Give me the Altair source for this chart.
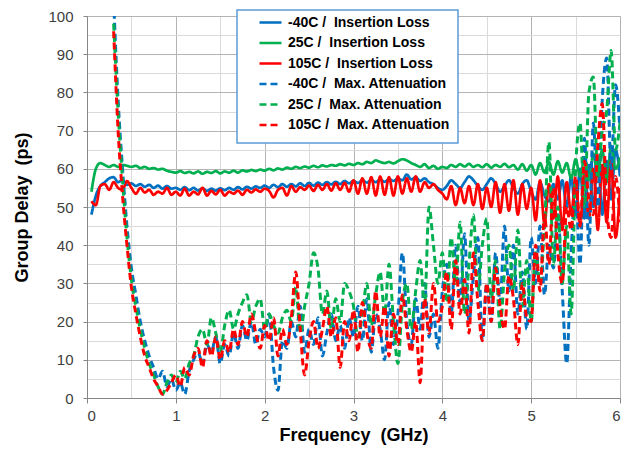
import altair as alt
import pandas as pd

NB = "\u00a0"
SERIES = [
    "-40C / " + NB + "Insertion Loss",
    "25C / " + NB + "Insertion Loss",
    "105C / " + NB + "Insertion Loss",
    "-40C / " + NB + "Max. Attenuation",
    "25C / " + NB + "Max. Attenuation",
    "105C / " + NB + "Max. Attenuation",
]
COLORS = ["#0070C0", "#00B050", "#FF0000", "#0070C0", "#00B050", "#FF0000"]

# frequency samples (GHz)
FREQ_IL = [round(0.05 * i, 2) for i in range(1, 121)]    # 0.05 .. 6.00
FREQ_MA = [round(0.30 + 0.05 * i, 2) for i in range(115)]  # 0.30 .. 6.00

IL_M40 = [48, 53, 55.5, 56.5, 57.5, 57.8, 56.5, 57.0, 55.8, 56.2,
          55.5, 56.0, 55.3, 55.8, 55.0, 55.6, 54.8, 55.5, 54.8, 55.0,
          54.5, 55.2, 54.4, 55.0, 54.3, 54.9, 54.2, 54.8, 54.3, 54.9,
          54.4, 55.0, 54.5, 55.2, 54.6, 55.3, 54.8, 55.4, 55.0, 55.6,
          55.0, 55.8, 55.2, 56.0, 55.3, 56.0, 55.4, 56.2, 55.5, 56.3,
          55.6, 56.4, 55.8, 56.5, 55.9, 56.6, 56.0, 56.8, 56.2, 56.8,
          56.3, 57.0, 56.4, 57.1, 56.5, 57.2, 56.6, 57.3, 56.8, 57.5,
          57.0, 58.5, 57.2, 57.8, 56.8, 57.5, 56.5, 56.0, 55.0, 54.5,
          55.5, 57.0, 56.0, 55.0, 56.5, 58.0, 57.0, 55.5, 54.5, 56.0,
          57.5, 56.0, 54.0, 55.5, 57.0, 55.0, 53.5, 56.0, 57.0, 54.0,
          52.0, 56.5, 53.0, 51.5, 56.0, 52.0, 57.0, 50.0, 58.0, 48.0,
          60.0, 47.0, 61.0, 50.0, 63.0, 48.0, 62.0, 52.0, 65.0, 58.0]

IL_25 = [54, 60, 61.5, 61, 60.5, 61, 60.5, 61, 60.8, 60.5,
         60.8, 60.2, 60.5, 60.0, 60.2, 59.8, 60.0, 59.5, 59.2, 59.0,
         59.4, 58.9, 59.2, 58.8, 59.3, 58.7, 59.2, 58.9, 59.4, 58.8,
         59.3, 59.0, 59.5, 59.0, 59.6, 59.3, 59.7, 59.4, 59.8, 59.5,
         60.0, 59.6, 60.1, 59.8, 60.3, 60.0, 60.5, 60.2, 60.6, 60.3,
         60.8, 60.4, 60.9, 60.6, 61.0, 60.8, 61.2, 60.9, 61.3, 61.0,
         61.5, 61.2, 61.8, 61.5, 62.2, 61.8, 61.5, 61.8, 61.4, 62.0,
         62.5, 62.2, 61.5, 61.0, 60.5, 61.2, 60.2, 60.8, 60.0, 60.5,
         60.2, 61.0, 60.5, 61.2, 60.6, 61.3, 60.5, 61.0, 60.4, 61.2,
         60.3, 61.0, 60.5, 61.3, 60.4, 61.0, 59.8, 61.2, 59.5, 61.0,
         58.5, 61.5, 59.0, 61.8, 58.5, 62.0, 59.0, 61.5, 57.5, 62.5,
         58.0, 63.0, 57.0, 64.0, 58.0, 65.0, 56.5, 66.0, 60.0, 63.0]

IL_105 = [51.5, 50.5, 55.5, 56.0, 54.5, 56.5, 55.0, 54.5, 56.8, 55.0,
          53.5, 55.0, 53.8, 54.5, 53.2, 54.0, 53.5, 55.0, 53.2, 54.0,
          53.0, 54.8, 53.0, 54.0, 53.3, 55.0, 53.0, 54.2, 53.3, 54.5,
          53.0, 54.0, 53.5, 54.3, 53.2, 54.5, 53.8, 54.6, 54.0, 54.8,
          54.2, 52.5, 54.5, 55.0, 53.0, 55.5, 54.0, 55.2, 54.5, 55.6,
          54.2, 55.8, 54.5, 56.0, 54.3, 56.2, 54.5, 56.3, 54.0, 57.0,
          53.5, 57.5, 53.5, 57.8, 53.0, 58.0, 53.2, 57.8, 53.0, 58.0,
          53.5, 57.5, 54.0, 58.0, 54.0, 56.5, 55.0, 56.0, 54.5, 53.5,
          52.0, 55.5, 50.5, 55.0, 51.0, 55.5, 50.5, 56.0, 49.5, 55.0,
          50.0, 56.5, 48.5, 56.0, 49.0, 57.0, 48.0, 56.0, 49.5, 55.0,
          46.5, 57.0, 45.5, 56.0, 47.0, 58.0, 44.0, 56.5, 48.0, 57.0,
          45.0, 59.0, 47.0, 60.0, 44.0, 61.0, 46.0, 62.0, 42.0, 55.0]

MA_M40 = [104, 78, 60, 45, 34, 27, 20, 15, 11, 8,
          5, 7, 3, 5, 2, 4, 1, 7, 10, 12,
          9, 14, 12, 16, 9, 14, 11, 17, 13, 19,
          15, 20, 14, 18, 16, 22, 8, 2, 15, 13,
          20, 16, 24, 12, 18, 14, 21, 11, 17, 22,
          15, 19, 13, 21, 16, 24, 15, 26, 12, 22,
          18, 10, 25, 14, 22, 38, 20, 14, 26, 18,
          30, 16, 22, 13, 28, 35, 22, 40, 25, 43,
          20, 32, 42, 15, 30, 20, 38, 25, 45, 28,
          40, 22, 33, 18, 42, 30, 45, 27, 40, 34,
          48, 28, 9, 38, 55, 35, 68, 40, 72, 50,
          78, 89, 60, 82, 70]

MA_25 = [98, 75, 57, 42, 31, 24, 18, 13, 9, 6,
         3, 1, 4, 6, 4, 7, 5, 9, 11, 16,
         18, 14, 21, 17, 12, 19, 23, 18, 22, 25,
         27, 20, 24, 26, 18, 22, 19, 17, 21, 23,
         20, 29, 17, 24, 30, 38, 34, 22, 28, 18,
         26, 20, 30, 28, 24, 16, 22, 30, 19, 27,
         33, 22, 35, 20, 9, 25, 30, 18, 28, 36,
         24, 50, 40, 30, 38, 25, 42, 30, 46, 22,
         35, 48, 28, 40, 47, 26, 36, 18, 33, 40,
         28, 44, 24, 36, 20, 38, 30, 45, 67, 35,
         50, 30, 45, 22, 60, 72, 50, 80, 84, 58,
         70, 75, 91, 65, 72]

MA_105 = [96, 70, 53, 40, 29, 22, 16, 11, 8, 5,
          3, 1, 2, 4, 6, 3, 8, 6, 11, 13,
          8, 15, 11, 16, 10, 15, 12, 18, 14, 20,
          16, 22, 17, 13, 19, 15, 21, 11, 18, 14,
          21, 33, 18, 6, 15, 20, 13, 18, 24, 16,
          21, 8, 20, 15, 23, 12, 25, 17, 13, 28,
          16, 24, 11, 22, 14, 27, 18, 12, 20, 4,
          26, 17, 30, 20, 24, 33, 18, 36, 22, 31,
          17, 38, 25, 15, 30, 20, 34, 24, 18, 32,
          26, 14, 30, 21, 20, 40, 28, 48, 35, 55,
          38, 30, 50, 44, 58, 45, 62, 52, 48, 66,
          77, 50, 42, 58, 46]

rows = []
for name, fr, vals in [
    (SERIES[0], FREQ_IL, IL_M40), (SERIES[1], FREQ_IL, IL_25), (SERIES[2], FREQ_IL, IL_105),
    (SERIES[3], FREQ_MA, MA_M40), (SERIES[4], FREQ_MA, MA_25), (SERIES[5], FREQ_MA, MA_105),
]:
    for f, v in zip(fr, vals):
        rows.append({"freq": f, "delay": v, "series": name})
df = pd.DataFrame(rows)

X_VALUES = [i * 0.5 for i in range(13)]
Y_VALUES = [i * 5 for i in range(21)]

xaxis = alt.Axis(
    values=X_VALUES,
    labelExpr="datum.value % 1 === 0 ? format(datum.value, 'd') : ''",
    title="Frequency " + NB + "(GHz)",
    titleFontSize=18, titleFontWeight="bold", titleColor="#000000", titlePadding=3,
    labelFontSize=15, labelColor="#404040", labelPadding=5,
    tickSize=5,
    tickColor={"condition": {"test": "datum.value % 1 !== 0", "value": "transparent"}, "value": "#868686"},
    gridColor={"condition": {"test": "datum.value % 1 === 0", "value": "#b4b4b4"}, "value": "#dadada"},
    domainColor="#868686",
)
yaxis = alt.Axis(
    values=Y_VALUES,
    labelExpr="datum.value % 10 === 0 ? format(datum.value, 'd') : ''",
    title="Group Delay " + NB + "(ps)",
    titleFontSize=18, titleFontWeight="bold", titleColor="#000000", titlePadding=16,
    labelFontSize=15, labelColor="#404040", labelPadding=10,
    tickSize=4,
    tickColor={"condition": {"test": "datum.value % 10 !== 0", "value": "transparent"}, "value": "#868686"},
    gridColor={"condition": {"test": "datum.value % 10 === 0", "value": "#b4b4b4"}, "value": "#dadada"},
    domainColor="#868686",
)

leg = alt.Legend(
    title=None, orient="none", legendX=171, legendY=-6,
    symbolType="stroke", symbolSize=484, symbolStrokeWidth=2.5,
    labelFont="Liberation Sans", labelFontSize=14, labelFontWeight="bold", labelColor="#000000",
    labelLimit=300, labelOffset=5, rowPadding=0.5, padding=0,
)
cscale = alt.Scale(domain=SERIES, range=COLORS)
dscale = alt.Scale(domain=SERIES, range=[[1, 0], [1, 0], [1, 0], [7, 4], [7, 4], [7, 4]])

layers = []
for s in SERIES:
    dashed = "Max" in s
    layers.append(
        alt.Chart(df)
        .transform_filter(alt.datum.series == s)
        .mark_line(strokeWidth=3 if dashed else 2.7, clip=True, interpolate="monotone")
        .encode(
            x=alt.X("freq:Q", scale=alt.Scale(domain=[0, 6], nice=False), axis=xaxis),
            y=alt.Y("delay:Q", scale=alt.Scale(domain=[0, 100], nice=False), axis=yaxis),
            color=alt.Color("series:N", scale=cscale, legend=leg),
            strokeDash=alt.StrokeDash("series:N", scale=dscale, legend=leg),
        )
    )

# legend frame (white box with blue border)
legend_box = (
    alt.Chart(pd.DataFrame({"box": [0]}))
    .mark_rect(fill="#ffffff", stroke="#5B9BD5", strokeWidth=1.5)
    .encode(x=alt.value(150), x2=alt.value(371), y=alt.value(-6), y2=alt.value(127))
)

chart = (
    alt.layer(*layers, legend_box)
    .properties(
        width=533, height=382,
        autosize=alt.AutoSizeParams(type="none"),
        padding={"left": 79, "top": 8, "right": 2, "bottom": 47},
        background="#ffffff",
    )
    .configure_view(strokeWidth=0)
    .configure(font="Liberation Sans")
    .configure_axis(labelFont="Liberation Sans", titleFont="Liberation Sans")
)

chart.save("out.html", embed_options={"renderer": "svg", "actions": False})
